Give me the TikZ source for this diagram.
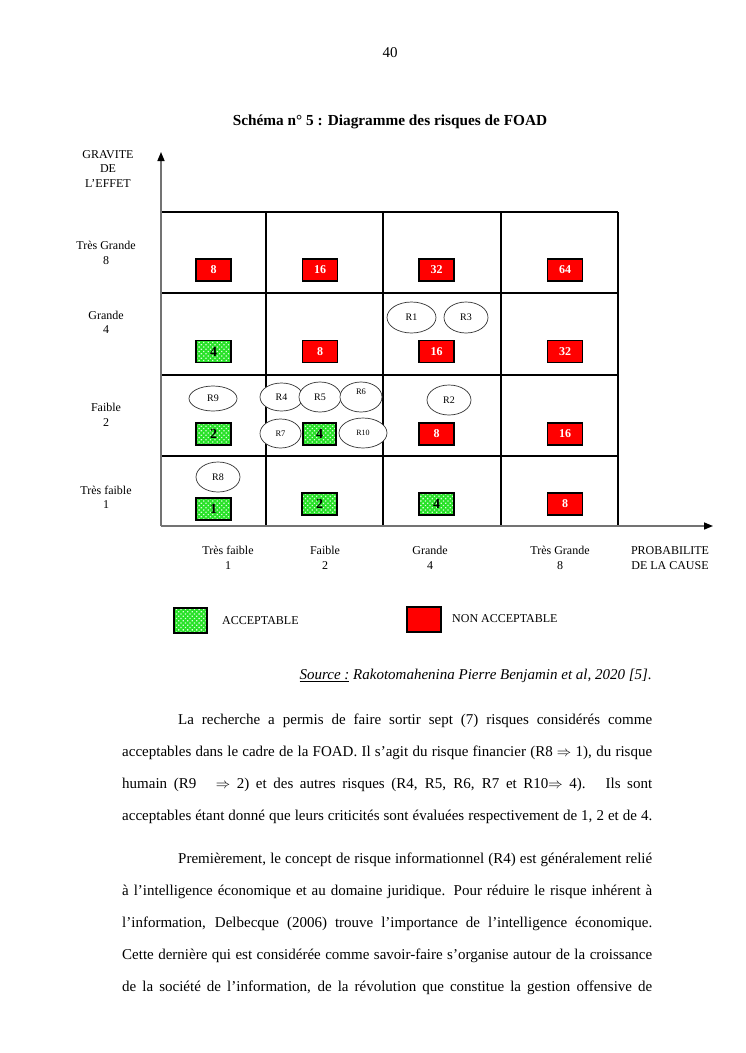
\documentclass[tikz,border=0pt]{standalone}
\usepackage{fontspec}
\setmainfont{Liberation Serif}
\usetikzlibrary{shapes.geometric,arrows.meta,patterns,patterns.meta}
\definecolor{accgreen}{RGB}{40,225,40}
\begin{document}
\begin{tikzpicture}[x=1pt,y=-1pt,
  lab/.style={font=\fontsize{12}{14.5}\selectfont, align=center, inner sep=0},
  redbox/.style={draw=black, line width=1.6pt, fill=red, minimum width=35pt, minimum height=22pt, inner sep=0, text=white, font=\fontsize{12}{14}\selectfont\bfseries},
  greenbox/.style={draw=black, line width=1.6pt, preaction={fill=accgreen}, pattern={Dots[radius=0.9pt, distance=3.2pt, angle=45]}, pattern color=white!85!green, minimum width=35pt, minimum height=22pt, inner sep=0, text=black, font=\fontsize{14}{14}\selectfont\bfseries},
  risk/.style={ellipse, draw=black!80, line width=0.7pt, fill=white, inner sep=0, font=\fontsize{10}{12}\selectfont},
  gridline/.style={black, line width=1.1pt},
  body/.style={font=\fontsize{15}{18}\selectfont, anchor=west, inner sep=0},
]
\useasboundingbox (0,0) rectangle (745,1053);
\fill[white] (0,0) rectangle (745,1053);

% page number and title
\node[font=\fontsize{15}{18}\selectfont] (pnum) at (390,53) {40};
\node[font=\fontsize{15.3}{18}\selectfont\bfseries] (title) at (390,122) {Schéma n° 5 : Diagramme des risques de FOAD};

% grid
\coordinate (O) at (161,526);
\coordinate (Ytop) at (161,152);
\coordinate (Xend) at (713,526);
\foreach \yy in {212,293,375,456} \draw[gridline] (161,\yy) -- (618,\yy);
\foreach \xx in {266,383,501,618} \draw[gridline] (\xx,212) -- (\xx,526);
\draw[black!55, line width=1.5pt, -{Triangle[length=9pt,width=7pt,color=black]}] (O) -- (Ytop);
\draw[black!55, line width=1.5pt, -{Triangle[length=9pt,width=7pt,color=black]}] (O) -- (Xend);

% axis labels
\node[lab] (grav) at (108,169) {GRAVITE\\DE\\L’EFFET};
\node[lab] (g8) at (106,253) {Très Grande\\8};
\node[lab] (g4) at (106,322.5) {Grande\\4};
\node[lab] (g2) at (106,415) {Faible\\2};
\node[lab] (g1) at (106,497.5) {Très faible\\1};
\node[lab] (p1) at (228,558) {Très faible\\1};
\node[lab] (p2) at (325,558) {Faible\\2};
\node[lab] (p4) at (430,558) {Grande\\4};
\node[lab] (p8) at (560,558) {Très Grande\\8};
\node[lab] (prob) at (670,558) {PROBABILITE\\DE LA CAUSE};

% red boxes
\node[redbox] (c18) at (213.5,270) {8};
\node[redbox] (c28) at (320,270) {16};
\node[redbox] (c48) at (436.5,270) {32};
\node[redbox] (c88) at (565,270) {64};
\node[redbox] (c24) at (320,351.5) {8};
\node[redbox] (c44) at (436.5,351.5) {16};
\node[redbox] (c84) at (565,351.5) {32};
\node[redbox] (c42) at (436.5,434) {8};
\node[redbox] (c82) at (565,434) {16};
\node[redbox] (c81) at (565,504) {8};
% green boxes
\node[greenbox] (c14) at (213.5,351.5) {4};
\node[greenbox] (c12) at (213.5,434) {2};
\node[greenbox, minimum width=33pt] (c22) at (319.5,434) {4};
\node[greenbox] (c11) at (213.5,509) {1};
\node[greenbox] (c21) at (319.5,504) {2};
\node[greenbox] (c41) at (436.5,504) {4};

% risks
\node[risk, minimum width=49pt, minimum height=31pt] (r1) at (411.5,317.5) {R1};
\node[risk, minimum width=44pt, minimum height=31pt] (r3) at (466,317.5) {R3};
\node[risk, minimum width=48pt, minimum height=25pt] (r9) at (213,398.5) {R9};
\node[risk, minimum width=43pt, minimum height=28pt] (r4) at (281.5,397) {R4};
\node[risk, minimum width=42pt, minimum height=30pt] (r5) at (320,397) {R5};
\node[risk, minimum width=42pt, minimum height=30pt] (r6) at (361,397) {};
\node[font=\fontsize{8.5}{10}\selectfont, inner sep=0] (r6t) at ([yshift=5pt]r6.center) {R6};
\node[risk, minimum width=41pt, minimum height=29pt, font=\fontsize{8.5}{10}\selectfont] (r7) at (280.5,433.5) {R7};
\node[risk, minimum width=48pt, minimum height=30pt, font=\fontsize{8}{10}\selectfont] (r10) at (363,433) {R10};
\node[risk, minimum width=44pt, minimum height=30pt] (r2) at (449,400) {R2};
\node[risk, minimum width=44pt, minimum height=30pt] (r8) at (218,477) {R8};

% legend
\node[greenbox, minimum width=33pt, minimum height=25pt] (legA) at (190.5,620.5) {};
\node[lab, anchor=west] (legAt) at (222,621) {ACCEPTABLE};
\node[redbox, minimum width=34pt, minimum height=25pt] (legN) at (424,619.5) {};
\node[lab, anchor=west] (legNt) at (452,619) {NON ACCEPTABLE};

% source
\node[font=\fontsize{15}{18}\selectfont\itshape, anchor=east, inner sep=0] (src) at (652,676) {\underline{Source :} Rakotomahenina Pierre Benjamin et al, 2020 [5].};

% body text
\node[body] (l1) at (178,721) {\makebox[474pt][s]{La recherche a permis de faire sortir sept (7) risques considérés comme}};
\node[body] (l2) at (122,753) {\makebox[530pt][s]{acceptables dans le cadre de la FOAD. Il s’agit du risque financier (R8 $\Rightarrow$ 1), du risque}};
\node[body] (l3) at (122,785) {\makebox[530pt][s]{humain (R9 \ \ $\Rightarrow$ 2) et des autres risques (R4, R5, R6, R7 et R10$\Rightarrow$ 4). \ Ils sont}};
\node[body] (l4) at (122,817) {\makebox[530pt][s]{acceptables étant donné que leurs criticités sont évaluées respectivement de 1, 2 et de 4.}};
\node[body] (l5) at (178,860) {\makebox[474pt][s]{Premièrement, le concept de risque informationnel (R4) est généralement relié}};
\node[body] (l6) at (122,892) {\makebox[530pt][s]{à l’intelligence économique et au domaine juridique. Pour réduire le risque inhérent à}};
\node[body] (l7) at (122,924) {\makebox[530pt][s]{l’information, Delbecque (2006) trouve l’importance de l’intelligence économique.}};
\node[body] (l8) at (122,956) {\makebox[530pt][s]{Cette dernière qui est considérée comme savoir-faire s’organise autour de la croissance}};
\node[body] (l9) at (122,988) {\makebox[530pt][s]{de la société de l’information, de la révolution que constitue la gestion offensive de}};
\end{tikzpicture}
\end{document}
